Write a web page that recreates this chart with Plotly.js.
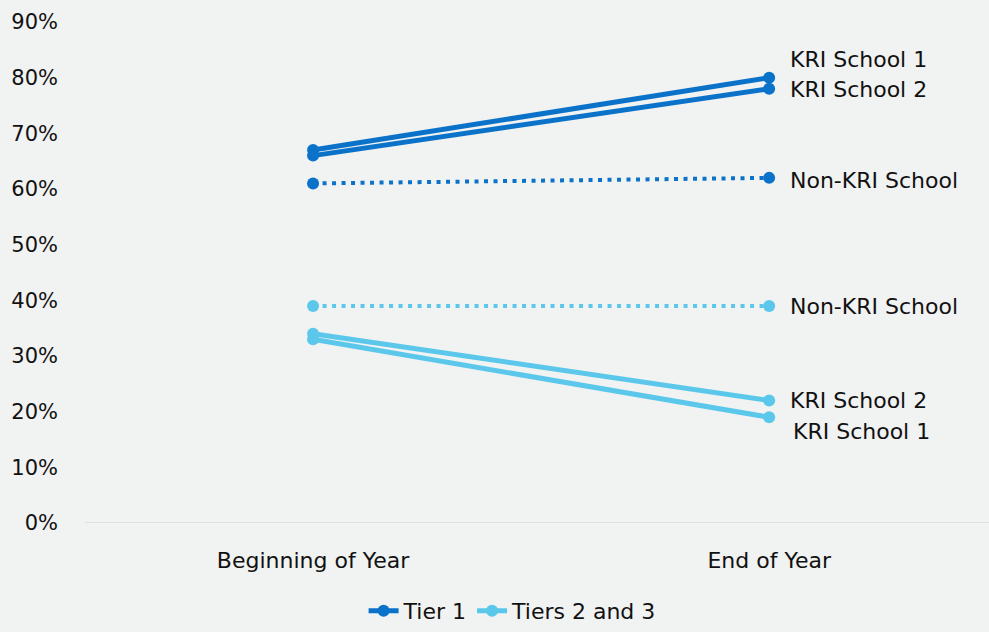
<!DOCTYPE html>
<html>
<head>
<meta charset="utf-8">
<script src="https://cdn.plot.ly/plotly-3.0.1.min.js"></script>
<style>html,body{margin:0;padding:0;background:#f1f2f2;}#chart{width:989px;height:632px;}</style>
</head>
<body>
<div id="chart"></div>
<script>
var categories = ["Beginning of Year", "End of Year"];
var tier1_kri1 = [0.67, 0.80];
var tier1_kri2 = [0.66, 0.78];
var tier1_non = [0.61, 0.62];
var tier23_kri1 = [0.33, 0.19];
var tier23_kri2 = [0.34, 0.22];
var tier23_non = [0.39, 0.39];
var yTicks = [0, 0.1, 0.2, 0.3, 0.4, 0.5, 0.6, 0.7, 0.8, 0.9];

var dark = "#0a72c9";
var light = "#5bc8eb";
var xs = [0, 1];

function tr(y, color, dotted, name, show) {
  return {
    x: xs, y: y, type: "scatter", mode: "lines+markers",
    line: {color: color, width: dotted ? 4 : 5, dash: dotted ? "4px,5.5px" : "solid"},
    marker: {color: color, size: 12},
    name: name, showlegend: show, legendgroup: name, hoverinfo: "skip"
  };
}

var data = [
  tr(tier1_kri1, dark, false, "Tier 1", true),
  tr(tier1_kri2, dark, false, "Tier 1", false),
  tr(tier1_non, dark, true, "Tier 1", false),
  tr(tier23_kri1, light, false, "Tiers 2 and 3", true),
  tr(tier23_kri2, light, false, "Tiers 2 and 3", false),
  tr(tier23_non, light, true, "Tiers 2 and 3", false)
];

function lab(text, y, yshift, xshift) {
  return {x: 1, y: y, xref: "x", yref: "y", text: text, showarrow: false,
    xanchor: "left", yanchor: "middle", xshift: xshift, yshift: yshift,
    font: {size: 22, color: "#111111"}};
}

var annotations = [
  lab("KRI School 1", tier1_kri1[1], 18, 19),
  lab("KRI School 2", tier1_kri2[1], -1, 19),
  lab("Non-KRI School", tier1_non[1], -3, 19),
  lab("Non-KRI School", tier23_non[1], -1, 19),
  lab("KRI School 2", tier23_kri2[1], 0, 19),
  lab("KRI School 1", tier23_kri1[1], -14, 22)
];

var layout = {
  width: 989, height: 632,
  paper_bgcolor: "#f1f2f2", plot_bgcolor: "#f1f2f2",
  font: {family: "'DejaVu Sans', sans-serif", size: 22, color: "#111111"},
  margin: {l: 85, r: 0, t: 22, b: 109},
  showlegend: true,
  legend: {orientation: "h", x: 0.473, xanchor: "center", yref: "container", y: 0, yanchor: "bottom",
    font: {size: 22}, traceorder: "normal"},
  xaxis: {
    range: [-0.5, 1.482], tickvals: xs, ticktext: categories,
    showgrid: false, zeroline: false, showline: false, ticks: "",
    ticklabelstandoff: 22,
    tickfont: {size: 22}, fixedrange: true
  },
  yaxis: {
    range: [0, 0.9], tickvals: yTicks, tickformat: ".0%",
    showgrid: false, zeroline: false, showline: false, ticks: "",
    ticklabelstandoff: 26,
    tickfont: {size: 21}, fixedrange: true, automargin: false
  },
  shapes: [{type: "line", xref: "paper", yref: "y", x0: 0, x1: 1, y0: 0, y1: 0,
    line: {color: "#d9d9d9", width: 1.5}, layer: "below"}],
  annotations: annotations
};

Plotly.newPlot("chart", data, layout, {displayModeBar: false, staticPlot: true});
</script>
</body>
</html>
